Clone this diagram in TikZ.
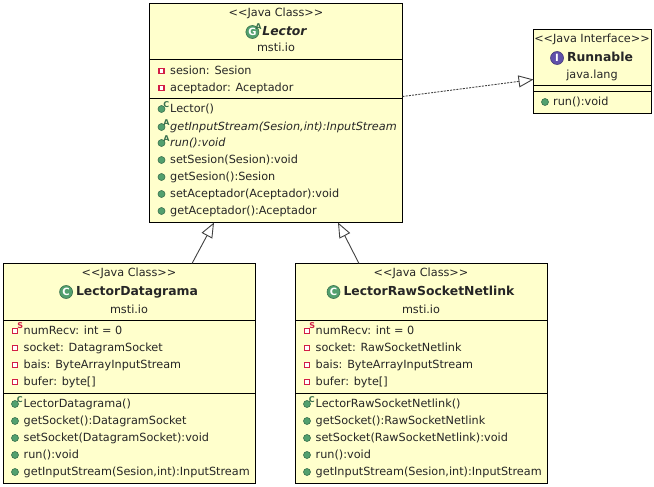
\documentclass[tikz,border=0pt]{standalone}
\usepackage{fontspec}
\setmainfont{DejaVu Sans}
\usetikzlibrary{positioning, arrows.meta}
\definecolor{classfill}{RGB}{255,255,204}
\definecolor{pubgreen}{RGB}{82,160,110}
\definecolor{privred}{RGB}{210,30,70}
\definecolor{ifacepurple}{RGB}{96,80,170}
\definecolor{linegray}{RGB}{64,64,64}
\tikzstyle{classbox} = [rectangle, draw=black, fill=classfill, line width=1pt, anchor=north west, outer sep=0pt, inner sep=0pt]
\tikzstyle{plaintext} = [font=\fontsize{11.25}{13}\selectfont, inner sep=0pt, text=black!85, text height=9.5pt, text depth=2.5pt]
\tikzstyle{member} = [plaintext, anchor=west]
\tikzstyle{classname} = [font=\fontsize{12.4}{15}\selectfont\bfseries, inner sep=0pt, text=black!85, text height=10pt, text depth=2.5pt]
\tikzstyle{bigicon} = [circle, minimum size=13pt, inner sep=0pt, text=white, font=\fontsize{10}{10}\selectfont\bfseries]
\tikzstyle{classicon} = [bigicon, fill=pubgreen, draw=pubgreen!70!black, line width=.6pt]
\tikzstyle{ifaceicon} = [bigicon, fill=ifacepurple, draw=ifacepurple!70!black, line width=.6pt]
\tikzstyle{pubicon} = [circle, minimum size=7pt, inner sep=0pt, fill=pubgreen, draw=pubgreen!70!black, line width=.6pt]
\tikzstyle{privicon} = [rectangle, minimum size=5pt, inner sep=0pt, fill=white, draw=privred, line width=1.4pt]
\tikzstyle{supmark} = [font=\fontsize{8}{8}\selectfont\bfseries, inner sep=0pt, label distance=-1.5pt]
\tikzstyle{ctoricon} = [pubicon, label={[supmark, text=pubgreen!70!black]45:C}]
\tikzstyle{absticon} = [pubicon, label={[supmark, text=pubgreen!70!black]45:A}]
\tikzstyle{staticon} = [privicon, label={[supmark, text=privred]45:S}]
\tikzstyle{inherit} = [linegray, line width=.9pt, -{Triangle[open, length=15pt, width=12pt, fill=white]}]

\begin{document}
\begin{tikzpicture}[x=1pt, y=-1pt]
\useasboundingbox (0,0) rectangle (654,487);

% boxes
\node (lector) [classbox, minimum width=253pt, minimum height=219pt] at (149.5,3.5) {};
\node (runnable) [classbox, minimum width=117.5pt, minimum height=84pt] at (533.5,29.5) {};
\node (datagrama) [classbox, minimum width=252pt, minimum height=220pt] at (3.5,263.5) {};
\node (netlink) [classbox, minimum width=252pt, minimum height=220pt] at (295.5,263.5) {};

% compartments
\foreach \cls/\sep in {lector/56, lector/95, runnable/56.5, runnable/62, datagrama/57, datagrama/130, netlink/57, netlink/130}
  \draw [black, line width=1pt] ([yshift=-\sep pt]\cls.north west) -- ([yshift=-\sep pt]\cls.north east);

% headers
\node (lectorstereo) [plaintext] at (276,13) {<{}<Java Class>{}>};
\node (lectorname) [classname, font=\fontsize{12.4}{15}\selectfont\bfseries\itshape] at (284.5,32) {Lector};
\node (lectoricon) [classicon, left=3pt of lectorname, label={[supmark, text=pubgreen!70!black, label distance=-3pt]45:A}] {G};
\node (lectorpkg) [plaintext] at (276,48) {msti.io};

\node (runnablestereo) [plaintext] at (592,39) {<{}<Java Interface>{}>};
\node (runnablename) [classname] at (600,58) {Runnable};
\node (runnableicon) [ifaceicon, left=3pt of runnablename] {I};
\node (runnablepkg) [plaintext] at (592,75) {java.lang};

\node (datagramastereo) [plaintext] at (129,273) {<{}<Java Class>{}>};
\node (datagramaname) [classname] at (137,292) {LectorDatagrama};
\node (datagramaicon) [classicon, left=3pt of datagramaname] {C};
\node (datagramapkg) [plaintext] at (129,310) {msti.io};

\node (netlinkstereo) [plaintext] at (421,273) {<{}<Java Class>{}>};
\node (netlinkname) [classname] at (429,292) {LectorRawSocketNetlink};
\node (netlinkicon) [classicon, left=3pt of netlinkname] {C};
\node (netlinkpkg) [plaintext] at (421,310) {msti.io};

% members of Lector
\foreach \y/\ic/\txt in {71/privicon/{sesion: Sesion}, 88/privicon/{aceptador: Aceptador}, 109/ctoricon/{Lector()},
    127/absticon/{\itshape getInputStream(Sesion,int):InputStream}, 143/absticon/{\itshape run():void},
    160/pubicon/{setSesion(Sesion):void}, 177/pubicon/{getSesion():Sesion},
    194/pubicon/{setAceptador(Aceptador):void}, 211/pubicon/{getAceptador():Aceptador}} {
  \node (lectoric\y) [\ic] at (161.5,\y) {};
  \node (lectorm\y) [member] at (170,\y) {\txt};
}

% members of Runnable
\node (runnableic102) [pubicon] at (545,102) {};
\node (runnablem102) [member] at (553,102) {run():void};

% members of LectorDatagrama
\foreach \y/\ic/\txt in {331/staticon/{numRecv: int = 0}, 348/privicon/{socket: DatagramSocket},
    365/privicon/{bais: ByteArrayInputStream}, 382/privicon/{bufer: byte[]}, 404/ctoricon/{LectorDatagrama()},
    421/pubicon/{getSocket():DatagramSocket}, 438/pubicon/{setSocket(DatagramSocket):void},
    455/pubicon/{run():void}, 472/pubicon/{getInputStream(Sesion,int):InputStream}} {
  \node (datagramaic\y) [\ic] at (15,\y) {};
  \node (datagramam\y) [member] at (23.5,\y) {\txt};
}

% members of LectorRawSocketNetlink
\foreach \y/\ic/\txt in {331/staticon/{numRecv: int = 0}, 348/privicon/{socket: RawSocketNetlink},
    365/privicon/{bais: ByteArrayInputStream}, 382/privicon/{bufer: byte[]}, 404/ctoricon/{LectorRawSocketNetlink()},
    421/pubicon/{getSocket():RawSocketNetlink}, 438/pubicon/{setSocket(RawSocketNetlink):void},
    455/pubicon/{run():void}, 472/pubicon/{getInputStream(Sesion,int):InputStream}} {
  \node (netlinkic\y) [\ic] at (307,\y) {};
  \node (netlinkm\y) [member] at (315.5,\y) {\txt};
}

% relations
\draw [inherit] ([xshift=62.5pt]datagrama.north) -- ([xshift=-62pt]lector.south);
\draw [inherit] ([xshift=-62.5pt]netlink.north) -- ([xshift=62pt]lector.south);
\draw [inherit, dash pattern=on 2pt off 1.2pt] ([yshift=-93pt]lector.north east) -- ([yshift=-50pt]runnable.north west);

\end{tikzpicture}
\end{document}
